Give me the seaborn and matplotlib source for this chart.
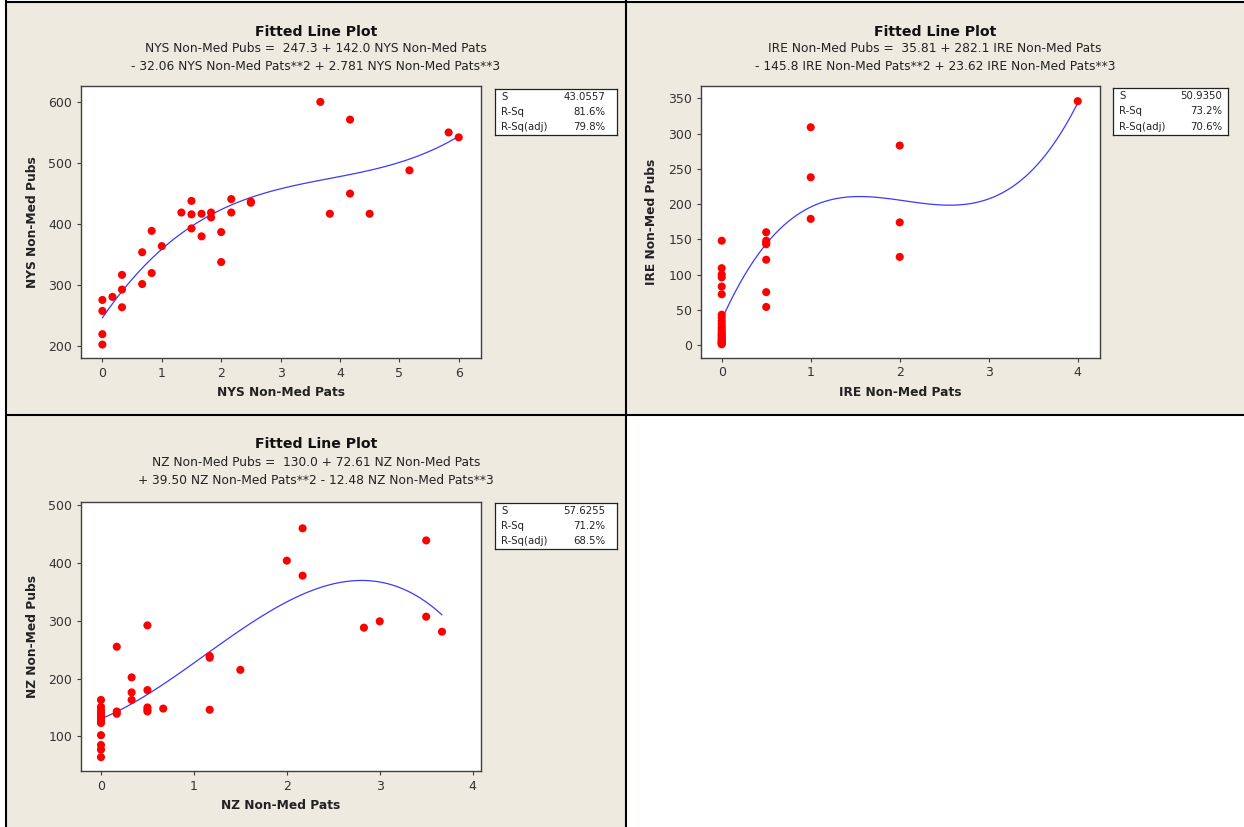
import numpy as np
import pandas as pd
import matplotlib
matplotlib.use("Agg")
import matplotlib.pyplot as plt
import seaborn as sns
from matplotlib.patches import Rectangle
from matplotlib.lines import Line2D

# ---------------- data ----------------
nys_pats = [0, 0, 0, 0, 0.17, 0.33, 0.33, 0.33, 0.67, 0.67, 0.83, 0.83, 1.0,
            1.33, 1.5, 1.5, 1.5, 1.67, 1.67, 1.83, 1.83, 2.0, 2.0, 2.17, 2.17,
            2.5, 2.5, 3.67, 3.83, 4.17, 4.17, 4.5, 5.17, 5.83, 6.0]
nys_pubs = [276, 258, 220, 203, 281, 317, 293, 264, 354, 302, 389, 320, 364,
            419, 438, 416, 393, 417, 380, 419, 411, 387, 338, 441, 419,
            437, 435, 600, 417, 571, 450, 417, 488, 550, 542]

ire_pats = [0] * 24 + [0.5] * 7 + [1] * 3 + [2] * 3 + [4]
ire_pubs = [1, 2, 3, 4, 5, 7, 9, 11, 13, 15, 17, 20, 23, 26, 30, 34, 39, 43,
            72, 83, 96, 100, 109, 148,
            160, 148, 145, 143, 121, 75, 54,
            309, 238, 179,
            283, 174, 125,
            346]

nz_pats = [0] * 12 + [0.17] * 3 + [0.33] * 3 + [0.5] * 5 + [0.67] + [1.17] * 3 + \
          [1.5, 2.0, 2.17, 2.17, 2.83, 3.0, 3.5, 3.5, 3.67]
nz_pubs = [163, 151, 145, 140, 136, 131, 127, 123, 102, 85, 77, 64,
           255, 143, 139,
           202, 176, 163,
           292, 180, 150, 146, 143,
           148,
           239, 236, 146,
           215, 404, 460, 378, 288, 299, 439, 307, 281]

titles = ["Fitted Line Plot"] * 3
eq_lines = [
    ["NYS Non-Med Pubs =  247.3 + 142.0 NYS Non-Med Pats",
     "- 32.06 NYS Non-Med Pats**2 + 2.781 NYS Non-Med Pats**3"],
    ["IRE Non-Med Pubs =  35.81 + 282.1 IRE Non-Med Pats",
     "- 145.8 IRE Non-Med Pats**2 + 23.62 IRE Non-Med Pats**3"],
    ["NZ Non-Med Pubs =  130.0 + 72.61 NZ Non-Med Pats",
     "+ 39.50 NZ Non-Med Pats**2 - 12.48 NZ Non-Med Pats**3"],
]
stat_names = ["S", "R-Sq", "R-Sq(adj)"]
stat_values = [["43.0557", "81.6%", "79.8%"],
               ["50.9350", "73.2%", "70.6%"],
               ["57.6255", "71.2%", "68.5%"]]
x_names = ["NYS Non-Med Pats", "IRE Non-Med Pats", "NZ Non-Med Pats"]
y_names = ["NYS Non-Med Pubs", "IRE Non-Med Pubs", "NZ Non-Med Pubs"]
x_ticks = [[0, 1, 2, 3, 4, 5, 6], [0, 1, 2, 3, 4], [0, 1, 2, 3, 4]]
y_ticks = [[200, 300, 400, 500, 600], [0, 50, 100, 150, 200, 250, 300, 350],
           [100, 200, 300, 400, 500]]

# ---------------- styling ----------------
sns.set_theme(style="white")
plt.rcParams["font.family"] = ["DejaVu Sans"]

W, H = 1244, 827
BEIGE = "#EFEAE0"
fig = plt.figure(figsize=(W / 100, H / 100), dpi=100)
fig.patch.set_facecolor("white")


def add_ax(l, t, r, b):
    return fig.add_axes([l / W, 1 - b / H, (r - l) / W, (b - t) / H])


def ftext(x, y, s, **kw):
    fig.text(x / W, 1 - y / H, s, **kw)


# panel backgrounds
for (l, t, r, b) in [(6, 1.5, 626, 414.7), (626, 1.5, 1244, 414.7), (6, 414.7, 626, 827)]:
    fig.add_artist(Rectangle((l / W, 1 - b / H), (r - l) / W, (b - t) / H,
                             transform=fig.transFigure, facecolor=BEIGE,
                             edgecolor="none", zorder=-5))
# frame lines
for (x0, y0, x1, y1) in [(6, 0, 6, 827), (6, 1.5, 1244, 1.5), (626, 0, 626, 827),
                         (6, 414.7, 1244, 414.7)]:
    fig.add_artist(Line2D([x0 / W, x1 / W], [1 - y0 / H, 1 - y1 / H],
                          transform=fig.transFigure, color="black", lw=1.5,
                          zorder=10))

axes_px = [(81, 86, 481, 358), (700.7, 86, 1100, 357.7), (81, 501.7, 481, 771)]
xlims = [(-0.36, 6.375), (-0.236, 4.25), (-0.215, 4.09)]
ylims = [(181, 626), (-18, 367.5), (40, 506)]
title_pos = [(316, 32, 49, 67), (935, 32, 49, 67), (316, 444, 462, 481)]
box_px = [(495, 89, 616.5, 135), (1113.3, 88.3, 1228.3, 135), (495, 503, 616.5, 549)]
datasets = [(nys_pats, nys_pubs), (ire_pats, ire_pubs), (nz_pats, nz_pubs)]

for i in range(3):
    ax = add_ax(*axes_px[i])
    ax.set_facecolor("white")
    xs, ys = datasets[i]
    df = pd.DataFrame({x_names[i]: xs, y_names[i]: ys})
    sns.regplot(data=df, x=x_names[i], y=y_names[i], order=3, ci=None,
                scatter=False, ax=ax, truncate=True,
                line_kws=dict(color="#3a3aff", lw=0.9, zorder=2))
    sns.scatterplot(data=df, x=x_names[i], y=y_names[i], ax=ax, color="#ff0000",
                    s=34, edgecolor="none", linewidth=0, zorder=3)
    ax.set_xlim(*xlims[i])
    ax.set_ylim(*ylims[i])
    ax.set_xticks(x_ticks[i])
    ax.set_yticks(y_ticks[i])
    ax.tick_params(axis="both", direction="out", length=3, width=0.8,
                   color="#404040", labelsize=9, labelcolor="#333333", pad=3.2,
                   bottom=True, left=True)
    for sp in ax.spines.values():
        sp.set_color("#404040")
        sp.set_linewidth(1.0)
    ax.set_xlabel(x_names[i], fontsize=8.8, fontweight="bold", color="#222222", labelpad=4.5)
    ax.set_ylabel(y_names[i], fontsize=8.8, fontweight="bold", color="#222222", labelpad=7)

    cx, ty, l1, l2 = title_pos[i]
    ftext(cx, ty, titles[i], ha="center", va="center", fontsize=10.2,
          fontweight="bold", color="#111111")
    ftext(cx, l1, eq_lines[i][0], ha="center", va="center", fontsize=8.8, color="#222222")
    ftext(cx, l2, eq_lines[i][1], ha="center", va="center", fontsize=8.8, color="#222222")

    bl, bt, br, bb = box_px[i]
    bax = add_ax(bl, bt, br, bb)
    bax.set_facecolor("white")
    bax.set_xticks([])
    bax.set_yticks([])
    for sp in bax.spines.values():
        sp.set_color("#222222")
        sp.set_linewidth(0.9)
    bax.set_xlim(bl, br)
    bax.set_ylim(bb, bt)
    for j, yy in enumerate([bt + 7.5, bt + 23, bt + 38.5]):
        bax.text(bl + 6, yy, stat_names[j], ha="left", va="center", fontsize=7.3,
                 color="#222222")
        bax.text(br - 11 if i != 1 else br - 6, yy, stat_values[i][j], ha="right",
                 va="center", fontsize=7.3, color="#222222")

fig.savefig("out.png", dpi=100, facecolor=fig.get_facecolor())
